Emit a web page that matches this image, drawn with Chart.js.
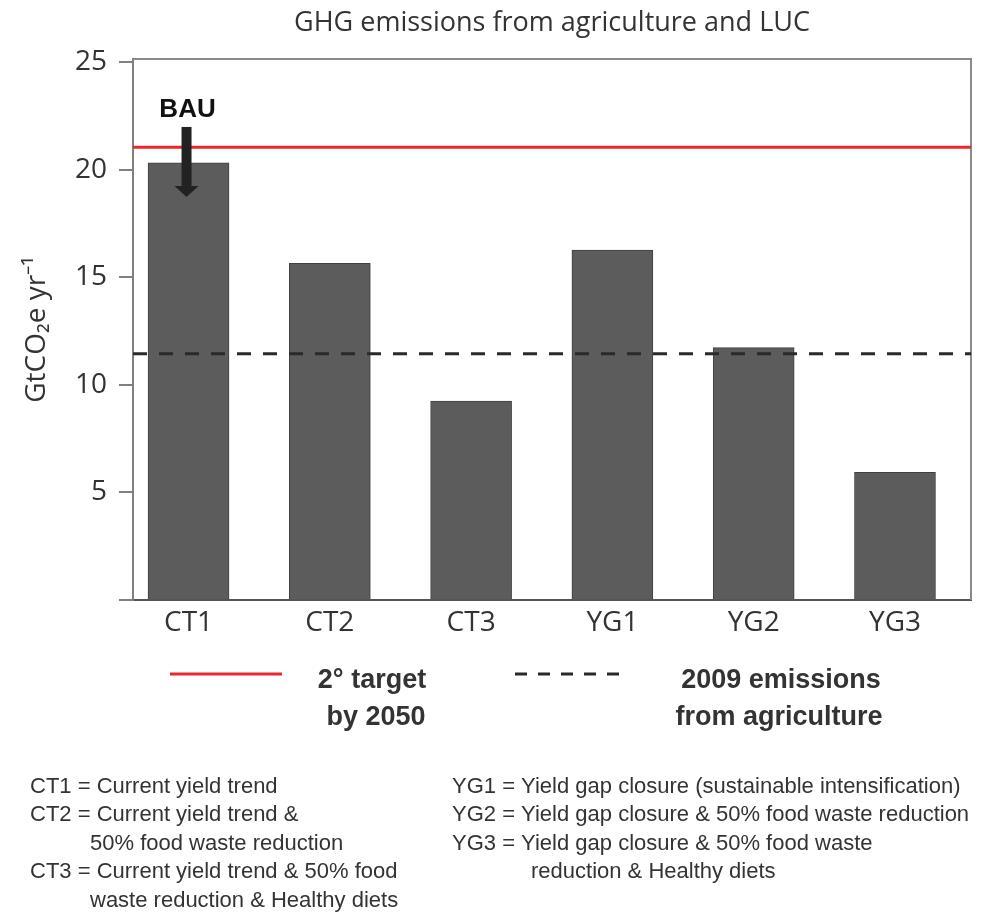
<!DOCTYPE html>
<html><head><meta charset="utf-8">
<script src="https://cdn.jsdelivr.net/npm/chart.js@4"></script>
<style>html,body{margin:0;padding:0;background:#fff;}</style>
</head><body>
<canvas id="c" width="987" height="913"></canvas>
<script>
// ---- data ----
const categories = ['CT1', 'CT2', 'CT3', 'YG1', 'YG2', 'YG3'];
const emissions = [20.32, 15.65, 9.25, 16.27, 11.73, 5.94];
const yTickValues = [0, 5, 10, 15, 20, 25];
const target2050 = 21.05;          // 2° target by 2050
const emissions2009 = 11.45;       // 2009 emissions from agriculture
const bauLabel = 'BAU';
const bauArrowFrom = 21.99;
const bauArrowHead = 19.25;
const bauArrowTo = 18.73;
const bauLabelValue = 22.78;
const bauCategoryIndex = 0;
const chartTitle = 'GHG emissions from agriculture and LUC';
const yAxisTitle = 'GtCO\u2082e yr\u207B\u00B9';
const legendTarget = ['2° target', 'by 2050'];
const legendEmissions = ['2009 emissions', 'from agriculture'];
const notesLeft = [
  ['CT1 = Current yield trend', 0],
  ['CT2 = Current yield trend &', 0],
  ['50% food waste reduction', 1],
  ['CT3 = Current yield trend & 50% food', 0],
  ['waste reduction & Healthy diets', 1]
];
const notesRight = [
  ['YG1 = Yield gap closure (sustainable intensification)', 0],
  ['YG2 = Yield gap closure & 50% food waste reduction', 0],
  ['YG3 = Yield gap closure & 50% food waste', 0],
  ['reduction & Healthy diets', 1]
];

const barData = categories.map((c, i) => ({ x: i, y: emissions[i] }));

const extras = {
  id: 'extras',
  afterDatasetsDraw(chart) {
    const { ctx, chartArea: a, scales: { x, y } } = chart;
    ctx.save();
    // top & right frame
    ctx.strokeStyle = '#8a8a8a';
    ctx.lineWidth = 2;
    ctx.beginPath();
    ctx.moveTo(a.left, a.top);
    ctx.lineTo(a.right, a.top);
    ctx.lineTo(a.right, a.bottom);
    ctx.stroke();
    // red target line
    const yr = y.getPixelForValue(target2050);
    ctx.strokeStyle = '#e8282c';
    ctx.lineWidth = 3;
    ctx.beginPath(); ctx.moveTo(a.left, yr); ctx.lineTo(a.right, yr); ctx.stroke();
    // dashed 2009 line
    const yd = y.getPixelForValue(emissions2009);
    ctx.strokeStyle = '#2a2a2a';
    ctx.setLineDash([14, 12]);
    ctx.beginPath(); ctx.moveTo(a.left, yd); ctx.lineTo(a.right, yd); ctx.stroke();
    ctx.setLineDash([]);
    // BAU arrow
    const xc = x.getPixelForValue(bauCategoryIndex) - 2;
    const y0 = y.getPixelForValue(bauArrowFrom);
    const yh = y.getPixelForValue(bauArrowHead);
    const yt = y.getPixelForValue(bauArrowTo);
    ctx.fillStyle = '#222';
    ctx.fillRect(xc - 5, y0, 10, yh - y0);
    ctx.beginPath();
    ctx.moveTo(xc - 12, yh); ctx.lineTo(xc + 12, yh); ctx.lineTo(xc, yt); ctx.closePath();
    ctx.fill();
    ctx.fillStyle = '#111';
    ctx.font = 'bold 26px "Liberation Sans", Arial, sans-serif';
    ctx.textAlign = 'center';
    ctx.textBaseline = 'middle';
    ctx.fillText(bauLabel, xc + 1, y.getPixelForValue(bauLabelValue));
    ctx.restore();
  },
  afterDraw(chart) {
    const { ctx } = chart;
    ctx.save();
    // legend
    ctx.strokeStyle = '#e8282c';
    ctx.lineWidth = 3;
    ctx.beginPath(); ctx.moveTo(170, 674); ctx.lineTo(282, 674); ctx.stroke();
    ctx.strokeStyle = '#2a2a2a';
    ctx.setLineDash([12, 11]);
    ctx.beginPath(); ctx.moveTo(515, 674); ctx.lineTo(622, 674); ctx.stroke();
    ctx.setLineDash([]);
    ctx.fillStyle = '#333';
    ctx.font = 'bold 27px "Liberation Sans", Arial, sans-serif';
    ctx.textAlign = 'center';
    ctx.textBaseline = 'middle';
    ctx.fillText(legendTarget[0], 372, 681);
    ctx.fillText(legendTarget[1], 376, 718);
    ctx.fillText(legendEmissions[0], 781, 681);
    ctx.fillText(legendEmissions[1], 779, 718);
    // notes
    ctx.font = '22px "Liberation Sans", Arial, sans-serif';
    ctx.textAlign = 'left';
    const lineY = [787, 815, 844, 872, 901];
    notesLeft.forEach((n, i) => ctx.fillText(n[0], n[1] ? 90 : 30, lineY[i], n[1] ? 320 : 370));
    notesRight.forEach((n, i) => ctx.fillText(n[0], n[1] ? 531 : 452, lineY[i], 522));
    ctx.restore();
  }
};

new Chart(document.getElementById('c'), {
  type: 'bar',
  data: {
    datasets: [{
      data: barData,
      backgroundColor: '#5c5c5c',
      borderColor: '#404040',
      borderWidth: 1,
      barThickness: 81
    }]
  },
  options: {
    responsive: false,
    animation: false,
    devicePixelRatio: 1,
    layout: { padding: { left: 0, right: 16, top: 0, bottom: 263 } },
    plugins: {
      legend: { display: false },
      tooltip: { enabled: false },
      title: {
        display: true,
        text: chartTitle,
        fullSize: false,
        color: '#333',
        font: { family: '"Open Sans", sans-serif', size: 27, weight: 'normal' },
        padding: { top: 7, bottom: 19.6 }
      }
    },
    scales: {
      x: {
        type: 'linear',
        min: -0.393,
        max: 5.538,
        offset: false,
        afterFit(s) { s.height = 50; },
        afterBuildTicks(s) { s.ticks = categories.map((c, i) => ({ value: i })); },
        ticks: {
          includeBounds: false,
          stepSize: 1,
          autoSkip: false,
          maxRotation: 0,
          padding: 6,
          color: '#333',
          font: { family: '"Open Sans", sans-serif', size: 28 },
          callback: (v) => categories[v] ?? ''
        },
        grid: { display: false, drawTicks: false },
        border: { display: true, color: '#555', width: 2 }
      },
      y: {
        min: 0,
        max: 25.15,
        afterFit(s) { s.width = 133; },
        afterBuildTicks(s) { s.ticks = yTickValues.map(v => ({ value: v })); },
        ticks: {
          includeBounds: false,
          stepSize: 5,
          padding: 12,
          color: '#333',
          font: { family: '"Open Sans", sans-serif', size: 28 },
          callback: (v) => v === 0 ? '' : String(v)
        },
        grid: { drawOnChartArea: false, drawTicks: true, tickLength: 14, color: '#808080', lineWidth: 2 },
        border: { display: true, color: '#808080', width: 2 },
        title: {
          display: true,
          text: yAxisTitle,
          color: '#333',
          font: { family: '"Open Sans", sans-serif', size: 28 },
          padding: { top: 20, bottom: 0 }
        }
      }
    }
  },
  plugins: [extras]
});
</script>
</body></html>
